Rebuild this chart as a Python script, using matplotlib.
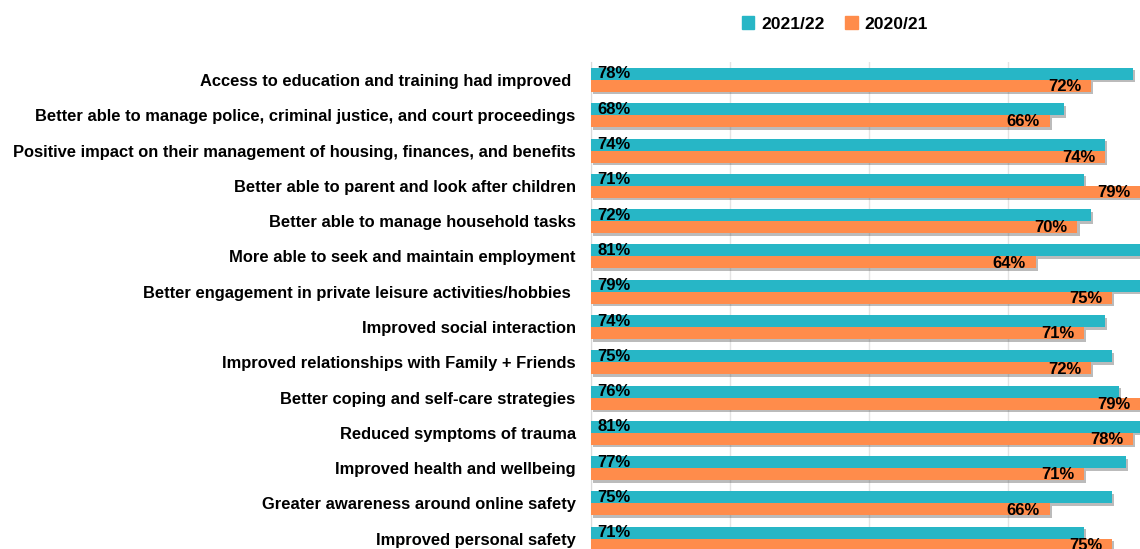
import numpy as np
import matplotlib.pyplot as plt
import matplotlib.patheffects as pe
from matplotlib.patches import Patch

# --- data ---
categories = [
    "Access to education and training had improved ",
    "Better able to manage police, criminal justice, and court proceedings",
    "Positive impact on their management of housing, finances, and benefits",
    "Better able to parent and look after children",
    "Better able to manage household tasks",
    "More able to seek and maintain employment",
    "Better engagement in private leisure activities/hobbies ",
    "Improved social interaction",
    "Improved relationships with Family + Friends",
    "Better coping and self-care strategies",
    "Reduced symptoms of trauma",
    "Improved health and wellbeing",
    "Greater awareness around online safety",
    "Improved personal safety",
]
vals_2122 = [78, 68, 74, 71, 72, 81, 79, 74, 75, 76, 81, 77, 75, 71]
vals_2021 = [72, 66, 74, 79, 70, 64, 75, 71, 72, 79, 78, 71, 66, 75]
series_names = ["2021/22", "2020/21"]

teal = "#27b6c6"
orange = "#ff8c4b"
plt.rcParams['font.family'] = ['Liberation Sans', 'DejaVu Sans']

W, H = 1140, 549
fig = plt.figure(figsize=(W / 100, H / 100), dpi=100)
# axes from x=591px to right edge, top at 62px, bottom at figure edge (chart is cropped)
ax = fig.add_axes([591 / W, 0, 1 - 591 / W, 1 - 62 / H])

y = np.arange(len(categories))
h = 0.34
shadow = [pe.SimplePatchShadow(offset=(1.5, -1.8), shadow_rgbFace='#555555', alpha=0.4), pe.Normal()]
b1 = ax.barh(y - h / 2, vals_2122, height=h, color=teal, zorder=3)
b2 = ax.barh(y + h / 2, vals_2021, height=h, color=orange, zorder=3)
for b in list(b1) + list(b2):
    b.set_path_effects(shadow)

for yi, v in zip(y, vals_2122):
    ax.text(0.9, yi - h / 2, f"{v}%", ha='left', va='center', fontsize=12,
            fontweight='bold', color='black', zorder=5)
for yi, v in zip(y, vals_2021):
    ax.text(v - 1.4, yi + h / 2 + 0.02, f"{v}%", ha='right', va='center', fontsize=12,
            fontweight='bold', color='black', zorder=5, clip_on=False)

ax.set_xlim(0, 79)
ax.set_ylim(13.29, -0.51)
ax.set_yticks(y)
ax.set_yticklabels(categories, fontsize=11.9, fontweight='bold')
ax.tick_params(axis='y', length=0, pad=11)
ax.set_xticks([0, 20, 40, 60])
ax.tick_params(axis='x', length=0, labelbottom=False)
ax.grid(axis='x', color='#e3e3e3', linewidth=1, zorder=0)
ax.set_axisbelow(True)
for s in ['top', 'right', 'bottom']:
    ax.spines[s].set_visible(False)
ax.spines['left'].set_color('#d9d9d9')

handles = [Patch(color=teal), Patch(color=orange)]
fig.legend(handles, series_names, loc='center', bbox_to_anchor=(835 / W, 1 - 24 / H),
           ncol=2, frameon=False, handlelength=0.7, handleheight=0.7, handletextpad=0.4,
           columnspacing=1.2, prop={'weight': 'bold', 'size': 12.6})

fig.savefig("out.png", dpi=100)
